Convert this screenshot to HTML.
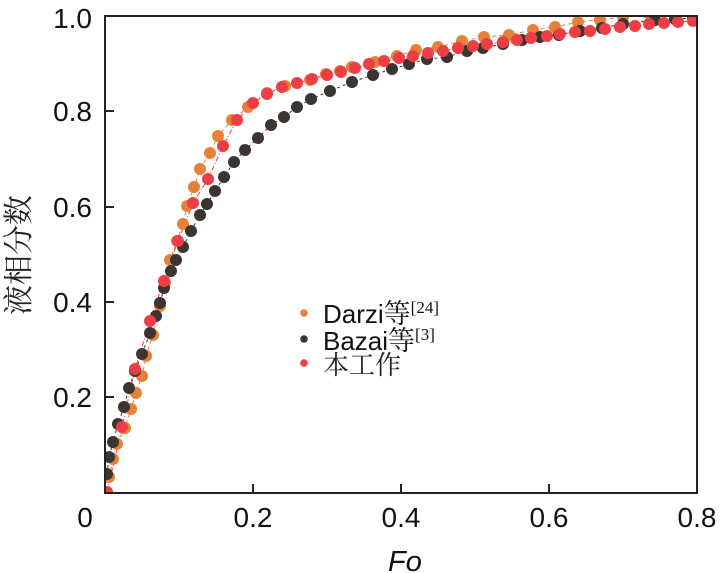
<!DOCTYPE html>
<html>
<head>
<meta charset="utf-8">
<style>
html,body{margin:0;padding:0;background:#fff;}
svg{display:block;}
</style>
</head>
<body>
<svg width="720" height="573" viewBox="0 0 720 573" xmlns="http://www.w3.org/2000/svg">
<defs>
<clipPath id="pc"><rect x="105" y="16" width="592" height="477"/></clipPath>
</defs>
<rect width="720" height="573" fill="#fff"/>

<g clip-path="url(#pc)">
<!-- connecting lines -->
<polyline fill="none" stroke="#E8803A" stroke-width="1" stroke-dasharray="4,3" points="109,477 113,459 117,444 125,428 131,409 136,393 142,376 146,356 153,335 160,306 165,283 170,260 177,241 183,224 187,206 194,187 200,169 210,153 218,136 232,120 248,107 267,93 285,86 310,80 326,74 340,71 352,67 375,62 397,56 416,50 438,47 462,41 484,37 509,35 533,30 555,27 578,22 600,20 623,17 648,13"/>
<polyline fill="none" stroke="#3B3431" stroke-width="1" stroke-dasharray="3,3" points="107,474 109,457 113,442 118,424 124,407 129,388 135,371 142,354 150,333 156,316 160,303 164,288 171,271 176,260 183,247 191,231 200,215 207,204 215,191 224,177 234,162 245,150 258,138 271,125 284,117 297,107 311,99 330,91 352,82 373,75 392,69 409,64 427,59 447,57 467,51 483,48 503,44 522,40 540,37 559,35 580,31 602,28 623,24 655,20 675,19 693,18"/>
<polyline fill="none" stroke="#EE3E45" stroke-width="1" stroke-dasharray="5,2,1,2" points="107,492 122,427 135,369 150,321 164,281 178,241 193,203 208,179 223,146 237,120 253,103 267,94 282,87 297,83 312,79 327,75 341,72 355,68 369,64 384,61 399,58 413,56 428,53 443,51 458,48 473,46 487,44 503,42 517,40 531,38 547,36 560,34 575,32 590,31 605,29 620,27 635,26 649,24 664,23 678,22 693,21"/>

<!-- orange series -->
<g fill="#E8803A">
<circle cx="109" cy="477" r="6"/><circle cx="113" cy="459" r="6"/><circle cx="117" cy="444" r="6"/><circle cx="125" cy="428" r="6"/><circle cx="131" cy="409" r="6"/><circle cx="136" cy="393" r="6"/><circle cx="142" cy="376" r="6"/><circle cx="146" cy="356" r="6"/><circle cx="153" cy="335" r="6"/><circle cx="160" cy="306" r="6"/><circle cx="165" cy="283" r="6"/><circle cx="170" cy="260" r="6"/><circle cx="177" cy="241" r="6"/><circle cx="183" cy="224" r="6"/><circle cx="187" cy="206" r="6"/><circle cx="194" cy="187" r="6"/><circle cx="200" cy="169" r="6"/><circle cx="210" cy="153" r="6"/><circle cx="218" cy="136" r="6"/><circle cx="232" cy="120" r="6"/><circle cx="248" cy="107" r="6"/><circle cx="267" cy="93" r="6"/><circle cx="285" cy="86" r="6"/><circle cx="310" cy="80" r="6"/><circle cx="326" cy="74" r="6"/><circle cx="340" cy="71" r="6"/><circle cx="352" cy="67" r="6"/><circle cx="375" cy="62" r="6"/><circle cx="397" cy="56" r="6"/><circle cx="416" cy="50" r="6"/><circle cx="438" cy="47" r="6"/><circle cx="462" cy="41" r="6"/><circle cx="484" cy="37" r="6"/><circle cx="509" cy="35" r="6"/><circle cx="533" cy="30" r="6"/><circle cx="555" cy="27" r="6"/><circle cx="578" cy="22" r="6"/><circle cx="600" cy="20" r="6"/><circle cx="623" cy="17" r="6"/><circle cx="648" cy="13" r="6"/>
</g>

<!-- black series -->
<g fill="#3B3431">
<circle cx="107" cy="474" r="6"/><circle cx="109" cy="457" r="6"/><circle cx="113" cy="442" r="6"/><circle cx="118" cy="424" r="6"/><circle cx="124" cy="407" r="6"/><circle cx="129" cy="388" r="6"/><circle cx="135" cy="371" r="6"/><circle cx="142" cy="354" r="6"/><circle cx="150" cy="333" r="6"/><circle cx="156" cy="316" r="6"/><circle cx="160" cy="303" r="6"/><circle cx="164" cy="288" r="6"/><circle cx="171" cy="271" r="6"/><circle cx="176" cy="260" r="6"/><circle cx="183" cy="247" r="6"/><circle cx="191" cy="231" r="6"/><circle cx="200" cy="215" r="6"/><circle cx="207" cy="204" r="6"/><circle cx="215" cy="191" r="6"/><circle cx="224" cy="177" r="6"/><circle cx="234" cy="162" r="6"/><circle cx="245" cy="150" r="6"/><circle cx="258" cy="138" r="6"/><circle cx="271" cy="125" r="6"/><circle cx="284" cy="117" r="6"/><circle cx="297" cy="107" r="6"/><circle cx="311" cy="99" r="6"/><circle cx="330" cy="91" r="6"/><circle cx="352" cy="82" r="6"/><circle cx="373" cy="75" r="6"/><circle cx="392" cy="69" r="6"/><circle cx="409" cy="64" r="6"/><circle cx="427" cy="59" r="6"/><circle cx="447" cy="57" r="6"/><circle cx="467" cy="51" r="6"/><circle cx="483" cy="48" r="6"/><circle cx="503" cy="44" r="6"/><circle cx="522" cy="40" r="6"/><circle cx="540" cy="37" r="6"/><circle cx="559" cy="35" r="6"/><circle cx="580" cy="31" r="6"/><circle cx="602" cy="28" r="6"/><circle cx="623" cy="24" r="6"/><circle cx="655" cy="20" r="6"/><circle cx="675" cy="19" r="6"/><circle cx="693" cy="18" r="6"/>
</g>

<!-- red series -->
<g fill="#EE3E45">
<circle cx="107" cy="492" r="6"/><circle cx="122" cy="427" r="6"/><circle cx="135" cy="369" r="6"/><circle cx="150" cy="321" r="6"/><circle cx="164" cy="281" r="6"/><circle cx="178" cy="241" r="6"/><circle cx="193" cy="203" r="6"/><circle cx="208" cy="179" r="6"/><circle cx="223" cy="146" r="6"/><circle cx="237" cy="120" r="6"/><circle cx="253" cy="103" r="6"/><circle cx="267" cy="94" r="6"/><circle cx="282" cy="87" r="6"/><circle cx="297" cy="83" r="6"/><circle cx="312" cy="79" r="6"/><circle cx="327" cy="75" r="6"/><circle cx="341" cy="72" r="6"/><circle cx="355" cy="68" r="6"/><circle cx="369" cy="64" r="6"/><circle cx="384" cy="61" r="6"/><circle cx="399" cy="58" r="6"/><circle cx="413" cy="56" r="6"/><circle cx="428" cy="53" r="6"/><circle cx="443" cy="51" r="6"/><circle cx="458" cy="48" r="6"/><circle cx="473" cy="46" r="6"/><circle cx="487" cy="44" r="6"/><circle cx="503" cy="42" r="6"/><circle cx="517" cy="40" r="6"/><circle cx="531" cy="38" r="6"/><circle cx="547" cy="36" r="6"/><circle cx="560" cy="34" r="6"/><circle cx="575" cy="32" r="6"/><circle cx="590" cy="31" r="6"/><circle cx="605" cy="29" r="6"/><circle cx="620" cy="27" r="6"/><circle cx="635" cy="26" r="6"/><circle cx="649" cy="24" r="6"/><circle cx="664" cy="23" r="6"/><circle cx="678" cy="22" r="6"/><circle cx="693" cy="21" r="6"/>
</g>
</g>

<!-- frame -->
<rect x="105" y="16" width="592" height="477" fill="none" stroke="#222" stroke-width="2"/>
<!-- ticks -->
<g stroke="#222" stroke-width="2">
<line x1="253" y1="493" x2="253" y2="484"/>
<line x1="401" y1="493" x2="401" y2="484"/>
<line x1="549" y1="493" x2="549" y2="484"/>
<line x1="105" y1="111" x2="114" y2="111"/>
<line x1="105" y1="207" x2="114" y2="207"/>
<line x1="105" y1="302" x2="114" y2="302"/>
<line x1="105" y1="397" x2="114" y2="397"/>
</g>

<!-- y tick labels -->
<g font-family="'Liberation Sans', Arial, sans-serif" font-size="28" fill="#111" text-anchor="end">
<text x="92" y="28">1.0</text>
<text x="92" y="121">0.8</text>
<text x="92" y="217">0.6</text>
<text x="92" y="312">0.4</text>
<text x="92" y="407">0.2</text>
</g>
<!-- x tick labels -->
<g font-family="'Liberation Sans', Arial, sans-serif" font-size="28" fill="#111" text-anchor="middle">
<text x="85" y="527">0</text>
<text x="253" y="527">0.2</text>
<text x="401" y="527">0.4</text>
<text x="549" y="527">0.6</text>
<text x="697" y="527">0.8</text>
</g>
<text x="388" y="571" font-family="'Liberation Sans', Arial, sans-serif" font-size="29" font-style="italic" fill="#111">Fo</text>

<!-- y axis title -->
<text transform="translate(29,255) rotate(-90)" text-anchor="middle" font-family="'Liberation Serif','Noto Serif CJK SC',serif" font-size="30" fill="#222">液相分数</text>

<!-- legend -->
<circle cx="304" cy="313" r="3.8" fill="#E8803A"/>
<circle cx="304" cy="339" r="3.8" fill="#3B3431"/>
<circle cx="304" cy="363" r="3.8" fill="#EE3E45"/>
<text x="323" y="323" font-family="'Liberation Sans', Arial, sans-serif" font-size="26" fill="#111">Darzi<tspan font-family="'Liberation Serif','Noto Serif CJK SC',serif" font-size="27">等</tspan><tspan font-family="'Liberation Serif',serif" font-size="17" dy="-10">[24]</tspan></text>
<text x="323" y="350" font-family="'Liberation Sans', Arial, sans-serif" font-size="26" fill="#111">Bazai<tspan font-family="'Liberation Serif','Noto Serif CJK SC',serif" font-size="27">等</tspan><tspan font-family="'Liberation Serif',serif" font-size="17" dy="-10">[3]</tspan></text>
<text x="323" y="374" font-family="'Liberation Serif','Noto Serif CJK SC',serif" font-size="26" fill="#222">本工作</text>
</svg>
</body>
</html>
